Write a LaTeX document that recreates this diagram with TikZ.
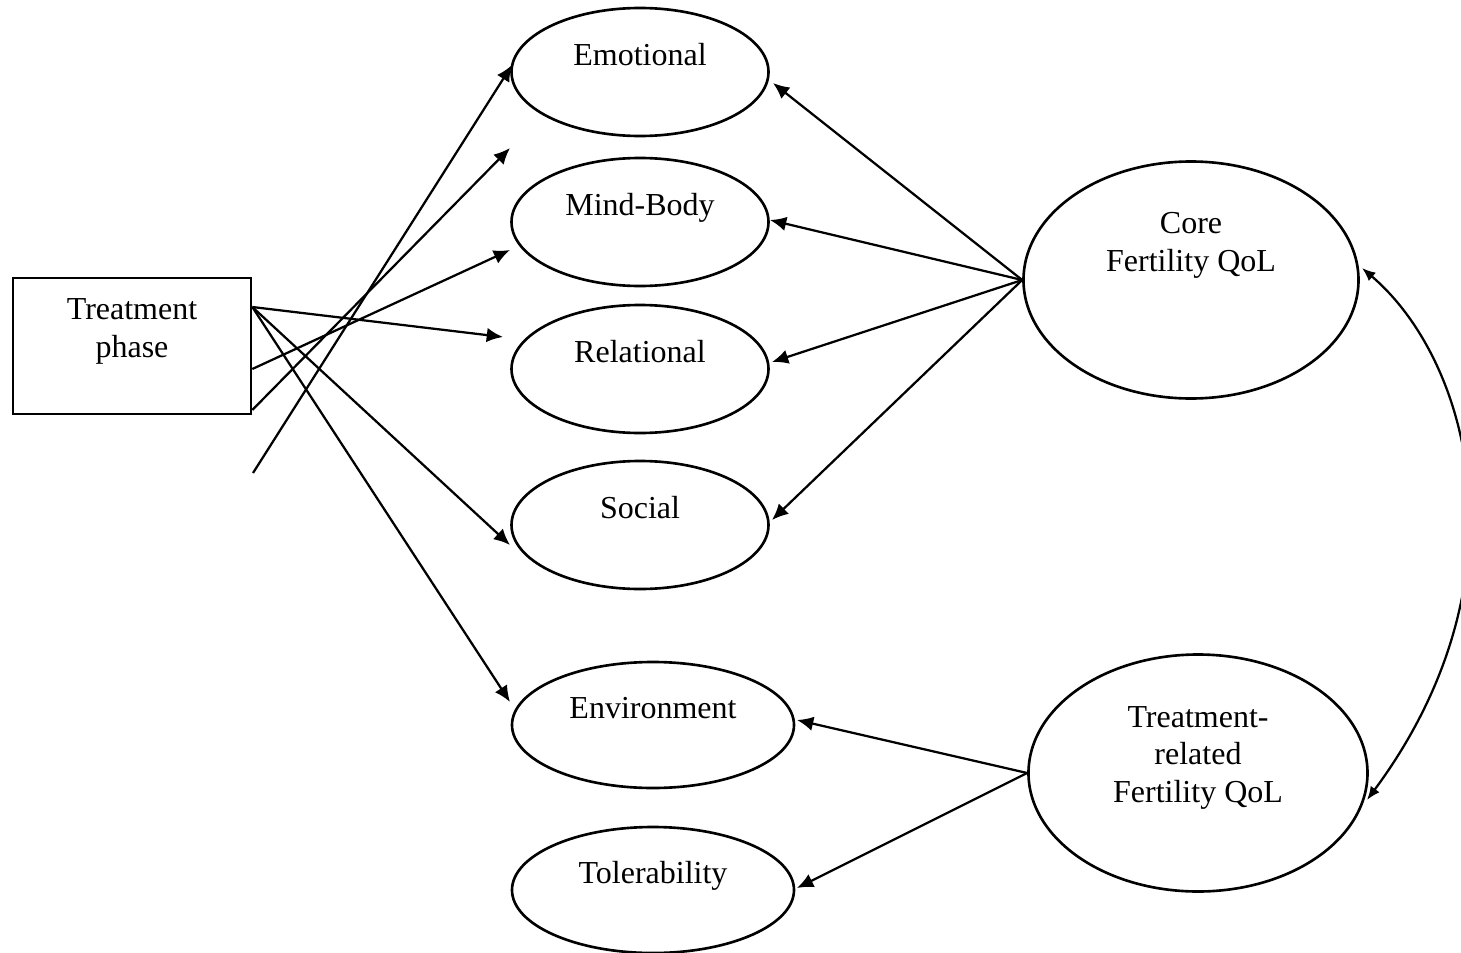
\documentclass[tikz,border=0pt]{standalone}
\usepackage{fontspec}
\setmainfont{Liberation Serif}
\usepackage{tikz}
\usetikzlibrary{shapes.geometric, arrows, arrows.meta}
\tikzstyle{subscale} = [ellipse, draw=black, line width=1.05pt, minimum width=102.8pt, minimum height=51.2pt, font=\fontsize{12.8}{15}\selectfont, text height=9pt, text depth=14.6pt]
\tikzstyle{widescale} = [subscale, minimum width=112.8pt, minimum height=50.4pt]
\tikzstyle{qol} = [ellipse, draw=black, line width=1.05pt, minimum width=134pt, minimum height=94.8pt, align=center, font=\fontsize{12.8}{15}\selectfont, text height=9pt, text depth=16.2pt]
\tikzstyle{phasebox} = [rectangle, draw=black, line width=1.05pt, minimum width=95.2pt, minimum height=54.4pt, align=center, font=\fontsize{12.8}{15}\selectfont, text height=17.8pt, text depth=9pt]
\tikzstyle{arrow} = [line width=0.9pt,->,>={Latex[length=6.5pt,width=5.8pt]}]
\tikzstyle{twoway} = [line width=0.9pt,<->,>={Latex[length=5.4pt,width=4.4pt]}]

\begin{document}
\begin{tikzpicture}[x=0.4pt, y=-0.4pt]
  \useasboundingbox (0,0) rectangle (1461,953);
  \clip (0,0) rectangle (1461,953);
  \node (tp) [phasebox] at (132,346) {Treatment\\phase};
  \node (emo) [subscale] at (640,72) {Emotional};
  \node (mind) [subscale] at (640,222) {Mind-Body};
  \node (rel) [subscale] at (640,369) {Relational};
  \node (soc) [subscale] at (640,525) {Social};
  \node (env) [widescale] at (653,725) {Environment};
  \node (tol) [widescale] at (653,890) {Tolerability};
  \node (core) [qol] at (1191,280) {Core\\Fertility QoL};
  \node (trq) [qol, minimum width=135.6pt, text height=23.2pt, text depth=0pt] at (1198,773) {Treatment-\\related\\Fertility QoL};
  \coordinate (looseend) at (510,148);
  \coordinate (loosestart) at (253,473);
  % treatment phase paths
  \draw[arrow] ([shift={(0,-39)}]tp.east) -- ([shift={(-137,-32)}]rel.center);
  \draw[arrow] ([shift={(0,-39)}]tp.east) -- ([shift={(-130,20)}]soc.center);
  \draw[arrow] ([shift={(0,-39)}]tp.east) -- ([shift={(-143,-23)}]env.center);
  \draw[arrow] ([shift={(0,23)}]tp.east) -- ([shift={(-130,28)}]mind.center);
  \draw[arrow] ([shift={(0,64)}]tp.east) -- (looseend);
  \draw[arrow] (loosestart) -- ([shift={(-128,-7)}]emo.center);
  % loadings
  \draw[arrow] (core.west) -- ([shift={(133,11)}]emo.center);
  \draw[arrow] (core.west) -- ([shift={(130,-2)}]mind.center);
  \draw[arrow] (core.west) -- ([shift={(132,-7)}]rel.center);
  \draw[arrow] (core.west) -- ([shift={(132,-5)}]soc.center);
  \draw[arrow] (trq.west) -- ([shift={(144,-5)}]env.center);
  \draw[arrow] (trq.west) -- ([shift={(144,-2)}]tol.center);
  \draw[twoway] ([shift={(171,-12)}]core.center) .. controls (1470,360) and (1530,580) .. ([shift={(169,27)}]trq.center);
\end{tikzpicture}
\end{document}
